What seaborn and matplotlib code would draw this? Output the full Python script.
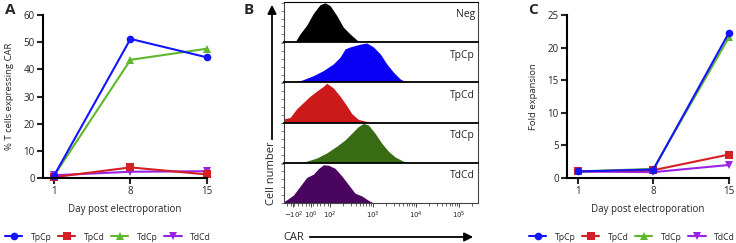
import matplotlib
matplotlib.use('Agg')
import matplotlib.pyplot as plt
from matplotlib.lines import Line2D
from matplotlib.patches import FancyArrowPatch
import seaborn as sns
import pandas as pd
import numpy as np

# panel A / C data
days = [1, 8, 15]
groups = ['TpCp', 'TpCd', 'TdCp', 'TdCd']
pct_tpcp = [0.8, 51.2, 44.4]
pct_tpcd = [0.3, 3.9, 1.3]
pct_tdcp = [0.8, 43.5, 47.6]
pct_tdcd = [1.0, 2.3, 2.5]
fold_tpcp = [1.0, 1.3, 22.3]
fold_tpcd = [1.0, 1.2, 3.6]
fold_tdcp = [1.0, 1.4, 21.6]
fold_tdcd = [1.0, 0.9, 2.0]

# panel B histograms (x in display decades, y relative count)
hist_names = ['Neg', 'TpCp', 'TpCd', 'TdCp', 'TdCd']
neg_car = [1.186, 1.302, 1.458, 1.612, 1.767, 1.884, 2.0, 2.155, 2.31, 2.465, 2.62, 2.70]
neg_count = [0, 0.21, 0.43, 0.73, 0.95, 1.0, 0.93, 0.68, 0.38, 0.21, 0.06, 0]
tpcp_car = [1.07, 1.302, 1.612, 1.845, 2.078, 2.233, 2.349, 2.465, 2.698, 2.853,
            3.008, 3.163, 3.318, 3.473, 3.628, 3.783]
tpcp_count = [0.02, 0.04, 0.17, 0.30, 0.47, 0.64, 0.85, 0.90, 0.97, 1.0,
              0.90, 0.73, 0.47, 0.26, 0.09, 0]
tpcd_car = [0.93, 0.953, 1.07, 1.225, 1.38, 1.535, 1.69, 1.845, 1.922, 2.078,
            2.233, 2.388, 2.504, 2.659, 2.891, 2.969]
tpcd_count = [0.1, 0.1, 0.13, 0.35, 0.51, 0.67, 0.80, 0.92, 1.0, 0.88,
              0.67, 0.43, 0.23, 0.08, 0.02, 0]
tdcp_car = [1.225, 1.458, 1.69, 1.922, 2.155, 2.349, 2.504, 2.659, 2.775, 2.891,
            3.046, 3.2, 3.36, 3.51, 3.705, 3.86]
tdcp_count = [0, 0.04, 0.12, 0.25, 0.42, 0.58, 0.75, 0.92, 1.0, 0.96,
              0.75, 0.50, 0.29, 0.15, 0.04, 0]
tdcd_car = [0.93, 0.953, 1.147, 1.302, 1.458, 1.612, 1.729, 1.845, 1.961, 2.116,
            2.271, 2.426, 2.581, 2.736, 2.891, 3.008]
tdcd_count = [0.05, 0.05, 0.20, 0.42, 0.65, 0.73, 0.87, 0.97, 0.96, 0.88,
              0.69, 0.47, 0.25, 0.18, 0.07, 0]
hist_colors = ['#000000', '#0A00F5', '#CC1A1A', '#386B14', '#4A065F']

car_ticks = [1.15, 1.55, 2.0, 3.0, 4.0, 5.0]
car_labels = [r'$-10^2$', r'$10^0$', r'$10^2$', r'$10^3$', r'$10^4$', r'$10^5$']

colors = {'TpCp': '#1414FF', 'TpCd': '#D41F26', 'TdCp': '#5DB82E', 'TdCd': '#9A22E6'}
markers = {'TpCp': 'o', 'TpCd': 's', 'TdCp': '^', 'TdCd': 'v'}

sns.set_style('white')
plt.rcParams['font.family'] = ['Open Sans', 'DejaVu Sans']
plt.rcParams['mathtext.fontset'] = 'dejavusans'

pct = pd.DataFrame({'day': days * 4, 'group': np.repeat(groups, 3),
                    'value': pct_tpcp + pct_tpcd + pct_tdcp + pct_tdcd})
fold = pd.DataFrame({'day': days * 4, 'group': np.repeat(groups, 3),
                     'value': fold_tpcp + fold_tpcd + fold_tdcp + fold_tdcd})

fig = plt.figure(figsize=(7.36, 2.43), dpi=100)
W, H = 736, 243


def box(l, t, r, b):
    return [l / W, 1 - b / H, (r - l) / W, (b - t) / H]


def line_panel(ax, df, ylabel, ymax, step):
    for g in groups[::-1]:
        sns.lineplot(data=df[df.group == g], x='day', y='value', ax=ax,
                     color=colors[g], marker=markers[g], markersize=5.5,
                     markeredgewidth=0, linewidth=1.5, legend=False, clip_on=False)
    ax.set_xlim(0, 15)
    ax.set_ylim(0, ymax)
    ax.set_xticks(days)
    ax.set_yticks(range(0, ymax + 1, step))
    ax.set_xlabel('Day post electroporation', fontsize=7, labelpad=5)
    ax.set_ylabel(ylabel, fontsize=6.8, labelpad=7)
    sns.despine(ax=ax)
    for s in ['left', 'bottom']:
        ax.spines[s].set_linewidth(1.5)
        ax.spines[s].set_color('black')
    ax.tick_params(width=1.5, length=4, labelsize=7, left=True, bottom=True, pad=2)


axA = fig.add_axes(box(43, 15, 207, 178))
line_panel(axA, pct, '% T cells expressing CAR', 60, 10)
axC = fig.add_axes(box(567, 15, 729, 178))
line_panel(axC, fold, 'Fold expansion', 25, 5)

handles = [Line2D([], [], color=colors[g], marker=markers[g], markersize=5.5,
                  markeredgewidth=0, linewidth=1.5) for g in groups]
for cx in [108 / W, 632 / W]:
    fig.legend(handles, groups, loc='center', bbox_to_anchor=(cx, 1 - 237 / H),
               ncol=4, frameon=False, fontsize=6.2, handlelength=2.0,
               handletextpad=1.0, columnspacing=0.75)

# panel B: stacked histograms
hist_x = [neg_car, tpcp_car, tpcd_car, tdcp_car, tdcd_car]
hist_y = [neg_count, tpcp_count, tpcd_count, tdcp_count, tdcd_count]
top, bottom = 2, 203
row_h = (bottom - top) / 5
for i, name in enumerate(hist_names):
    ax = fig.add_axes(box(284, top + i * row_h, 478, top + (i + 1) * row_h))
    ax.fill_between(hist_x[i], hist_y[i], color=hist_colors[i], linewidth=0)
    ax.set_xlim(0.93, 5.44)
    ax.set_ylim(0, 1.02)
    ax.set_yticks(np.linspace(0, 1, 6))
    ax.set_yticklabels([])
    ax.tick_params(axis='y', left=True, length=2, width=0.5, color='#555555')
    for s in ax.spines.values():
        s.set_color('#444444')
        s.set_linewidth(0.8)
    ax.spines['top'].set_color('black')
    ax.spines['top'].set_linewidth(1.3 if i else 0.8)
    ax.text(0.985, 0.68, name, transform=ax.transAxes, ha='right', va='center', fontsize=7.5)
    if i < 4:
        ax.set_xticks([])
    else:
        ax.set_xticks(car_ticks)
        ax.set_xticklabels(car_labels, fontsize=5)
        minor = [d + np.log10(k) for d in [2, 3, 4, 5] for k in range(2, 10) if d + np.log10(k) < 5.44]
        minor += list(np.linspace(1.0, 1.95, 12))
        ax.set_xticks(minor, minor=True)
        ax.tick_params(axis='x', which='major', bottom=True, length=3, width=0.6, pad=1.5)
        ax.tick_params(axis='x', which='minor', bottom=True, length=1.8, width=0.5)

fig.add_artist(FancyArrowPatch((272 / W, 1 - 142 / H), (272 / W, 1 - 2 / H),
                               transform=fig.transFigure, arrowstyle='-|>',
                               mutation_scale=13, lw=1.3, color='black'))
fig.text(271 / W, 1 - 173 / H, 'Cell number', rotation=90, ha='center', va='center', fontsize=8)
fig.text(283 / W, 1 - 237 / H, 'CAR', ha='left', va='center', fontsize=8)
fig.add_artist(FancyArrowPatch((307 / W, 1 - 237 / H), (476 / W, 1 - 237 / H),
                               transform=fig.transFigure, arrowstyle='-|>',
                               mutation_scale=13, lw=1.3, color='black'))

for letter, x in [('A', 5), ('B', 244), ('C', 528)]:
    fig.text(x / W, 1 - 10 / H, letter, fontsize=11, fontweight='bold', ha='left', va='center')

fig.savefig('out.png', dpi=100)
